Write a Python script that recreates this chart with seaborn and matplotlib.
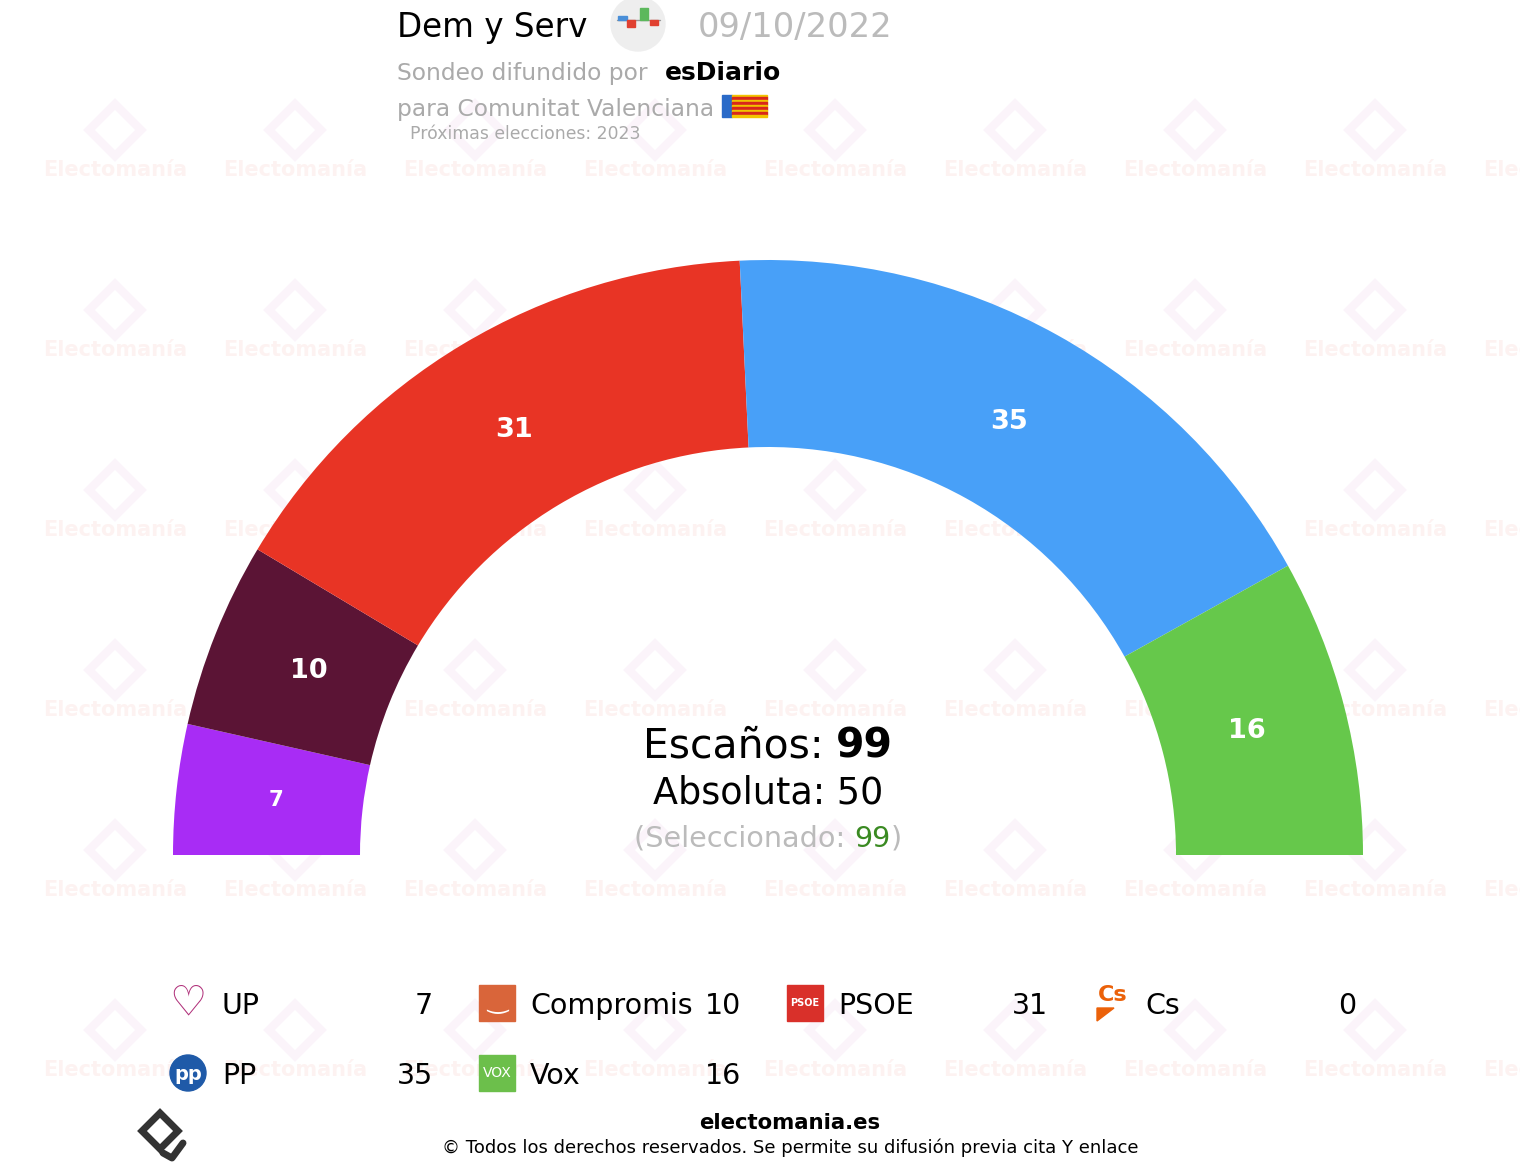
import numpy as np
import pandas as pd
import matplotlib
matplotlib.use("Agg")
import matplotlib.pyplot as plt
import seaborn as sns
from matplotlib.patches import Rectangle, Circle, Polygon

# ---------------- data ----------------
parties = ["UP", "Compromis", "PSOE", "Cs", "PP", "Vox"]
seats = [7, 10, 31, 0, 35, 16]
colors = ["#a82cf5", "#5b1435", "#e83425", "#eb6109", "#48a0f8", "#66c84b"]
pollster = "Dem y Serv"
poll_date = "09/10/2022"
media = "esDiario"
region = "Comunitat Valenciana"
next_election = "2023"
total_seats = 99
majority = 50
selected = 99

sns.set_theme(style="white")
plt.rcParams["font.family"] = ["DejaVu Sans"]

W, H = 1520, 1174
fig = plt.figure(figsize=(W / 100, H / 100), dpi=100)
ax = fig.add_axes([0, 0, 1, 1])

def Y(y):
    return H - y

# ---------------- watermark ----------------
for j, wy in enumerate([170, 350, 530, 710, 890, 1070]):
    for k in range(9):
        wx = 115 + 180 * k
        ax.text(wx, Y(wy), "Electomanía", ha="center", va="center", fontsize=15,
                fontweight="bold", color="#fdf2f1", zorder=0)
        ax.plot([wx], [Y(wy - 40)], marker="D", ms=26, mfc="none", mec="#fbf4fa",
                mew=6, zorder=0)

# ---------------- semicircle ----------------
df = pd.DataFrame({"party": parties, "seats": seats, "color": colors})
dpie = df[df["seats"] > 0]
vals = list(dpie["seats"]) + [dpie["seats"].sum()]
cols = list(dpie["color"]) + ["none"]
labs = [str(v) for v in dpie["seats"]] + [""]
wedges, texts = ax.pie(vals, colors=cols, labels=labs, startangle=180, counterclock=False,
                       center=(768, Y(855)), radius=595, labeldistance=495 / 595,
                       wedgeprops=dict(width=187, linewidth=0),
                       textprops=dict(color="white", fontweight="bold", ha="center", va="center"))
for t, v in zip(texts, vals):
    t.set_fontsize(15.5 if v < 10 else 19.5)
    t.set_ha("center")
    t.set_va("center")

ax.set_xlim(0, W)
ax.set_ylim(0, H)
ax.set_aspect("auto")
ax.axis("off")

fig.canvas.draw()
renderer = fig.canvas.get_renderer()

def rich(x, y, parts, ha="center"):
    """parts: list of (text, dict) drawn sequentially on one baseline."""
    objs = []
    widths = []
    for s, kw in parts:
        t = ax.text(0, Y(y), s, va="baseline", ha="left", **kw)
        bb = t.get_window_extent(renderer=renderer)
        objs.append(t)
        widths.append(bb.width)
    total = sum(widths)
    start = x - total / 2 if ha == "center" else x
    cx = start
    for t, w in zip(objs, widths):
        t.set_x(cx)
        cx += w

# ---------------- header ----------------
ax.text(397, Y(37), pollster, fontsize=23.5, color="black", va="baseline", ha="left")
ax.text(698, Y(37), poll_date, fontsize=24.2, color="#bbbbbb", va="baseline", ha="left")
ax.add_patch(Circle((638, Y(24)), 27, color="#eeeeee", zorder=2))
ax.plot([617, 660], [Y(20), Y(20)], color="#999999", lw=1, zorder=3)
ax.add_patch(Rectangle((618, Y(20)), 9, 4, color="#4a8fd8", zorder=3))
ax.add_patch(Rectangle((627, Y(27)), 8, 7, color="#e04030", zorder=3))
ax.add_patch(Rectangle((640, Y(20)), 8, 12, color="#5cb85c", zorder=3))
ax.add_patch(Rectangle((650, Y(25)), 8, 5, color="#e04030", zorder=3))

ax.text(397, Y(80), "Sondeo difundido por", fontsize=16.8, color="#aaaaaa", va="baseline", ha="left")
ax.text(665, Y(80), media, fontsize=18, color="black", fontweight="bold", va="baseline", ha="left")
ax.text(397, Y(116), "para " + region, fontsize=16.8, color="#aaaaaa", va="baseline", ha="left")
# flag
ax.add_patch(Rectangle((722, Y(117)), 10, 22, color="#2a6ac8", zorder=3))
for i in range(9):
    ax.add_patch(Rectangle((732, Y(95 + (i + 1) * 22 / 9)), 35, 22 / 9,
                           color="#f2c400" if i % 2 == 0 else "#d8281c", zorder=3))
ax.text(410, Y(139), "Próximas elecciones: " + next_election, fontsize=12.4, color="#aaaaaa",
        va="baseline", ha="left")

# ---------------- center texts ----------------
rich(768, 757, [("Escaños: ", dict(fontsize=29.4, color="black")),
                (str(total_seats), dict(fontsize=29.4, color="black", fontweight="bold"))])
rich(768, 803, [("Absoluta: " + str(majority), dict(fontsize=26.3, color="black"))])
rich(768, 847, [("(Seleccionado: ", dict(fontsize=20.6, color="#bbbbbb")),
                (str(selected), dict(fontsize=20.6, color="#3a8a22")),
                (")", dict(fontsize=20.6, color="#bbbbbb"))])

# ---------------- legend ----------------
icon_x = [188, 497, 805, 1112]
name_x = [222, 530, 838, 1145]
val_x = [433, 741, 1048, 1356]
row_y = [1014, 1084]

def draw_icon(name, cx, cy, color):
    s = 36
    if name == "UP":
        ax.text(cx, Y(cy), "♡", fontsize=30, color="#b0307a", ha="center", va="center", fontweight="bold")
    elif name == "Compromis":
        ax.add_patch(Rectangle((cx - s / 2, Y(cy + s / 2)), s, s, color="#d9653a", zorder=3))
        ax.text(cx, Y(cy - 1), "‿", fontsize=18, color="white", ha="center", va="center", zorder=4)
    elif name == "PSOE":
        ax.add_patch(Rectangle((cx - s / 2, Y(cy + s / 2)), s, s, color="#d9302a", zorder=3))
        ax.text(cx, Y(cy), "PSOE", fontsize=7, color="white", fontweight="bold",
                ha="center", va="center", zorder=4)
    elif name == "Cs":
        ax.text(cx + 1, Y(cy - 8), "Cs", fontsize=16, color=color, fontweight="bold",
                ha="center", va="center", zorder=4)
        ax.add_patch(Polygon([[cx - 15, Y(cy + 5)], [cx + 2, Y(cy + 5)], [cx - 15, Y(cy + 18)]],
                             color=color, zorder=3))
    elif name == "PP":
        ax.add_patch(Circle((cx, Y(cy)), 18, color="#1f5aa8", zorder=3))
        ax.text(cx, Y(cy + 2), "pp", fontsize=14, color="white", fontweight="bold",
                ha="center", va="center", zorder=4)
    elif name == "Vox":
        ax.add_patch(Rectangle((cx - s / 2, Y(cy + s / 2)), s, s, color="#6cbf4b", zorder=3))
        ax.text(cx, Y(cy), "VOX", fontsize=10, color="white", ha="center", va="center", zorder=4)

for i, (p, sv, c) in enumerate(zip(parties, seats, colors)):
    col, row = i % 4, i // 4
    yb = row_y[row]
    draw_icon(p, icon_x[col], yb - 11, c)
    ax.text(name_x[col], Y(yb), p, fontsize=20.5, color="black", va="baseline", ha="left")
    ax.text(val_x[col], Y(yb), str(sv), fontsize=20.5, color="black", va="baseline", ha="right")

# ---------------- footer ----------------
ax.text(790, Y(1129), "electomania.es", fontsize=15.3, fontweight="bold", color="black",
        ha="center", va="baseline")
ax.text(790, Y(1153), "© Todos los derechos reservados. Se permite su difusión previa cita Y enlace",
        fontsize=13, color="black", ha="center", va="baseline")
ax.add_patch(Polygon([[160, Y(1113)], [178, Y(1131)], [160, Y(1149)], [142, Y(1131)]],
                     closed=True, fill=False, ec="#333333", lw=5, zorder=3))
ax.plot([163, 172, 183], [Y(1153), Y(1158), Y(1143)], color="#333333", lw=5)

fig.savefig("out.png", dpi=100, facecolor="white")
